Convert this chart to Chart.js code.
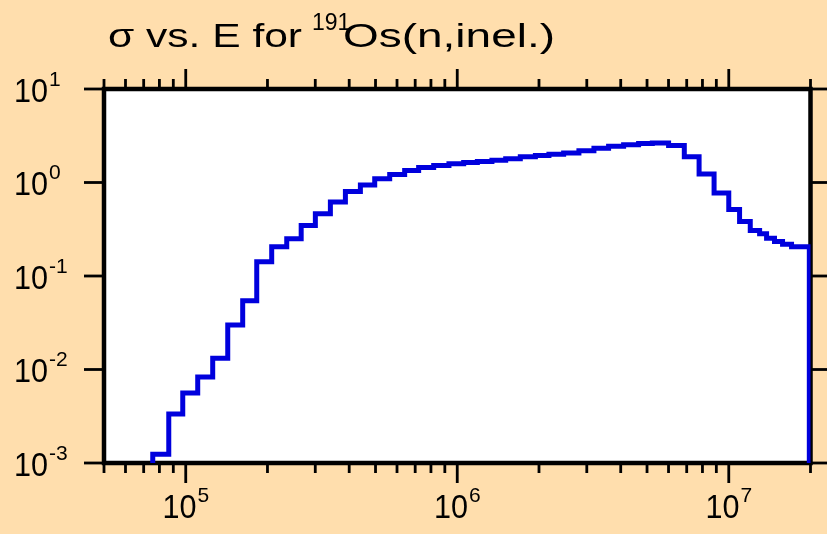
<!DOCTYPE html>
<html>
<head>
<meta charset="utf-8">
<script src="https://cdn.jsdelivr.net/npm/chart.js@4.4.0/dist/chart.umd.min.js"></script>
<style>
  html, body { margin: 0; padding: 0; background: #ffdead; }
  #wrap { width: 827px; height: 534px; }
</style>
</head>
<body>
<div id="wrap"><canvas id="chart" width="827" height="534"></canvas></div>
<script>
// group boundaries (eV), left edge of each step
const energyEdges = [
    5.0e4, 7.56e4, 8.66e4, 9.75e4, 1.107e5, 1.257e5, 1.428e5, 1.621e5, 1.826e5, 2.073e5,
    2.355e5, 2.662e5, 3.002e5, 3.41e5, 3.873e5, 4.398e5, 4.966e5, 5.639e5, 6.402e5, 7.208e5,
    8.188e5, 9.32e5, 1.056e6, 1.186e6, 1.342e6, 1.508e6, 1.707e6, 1.94e6, 2.176e6, 2.465e6,
    2.806e6, 3.187e6, 3.609e6, 4.099e6, 4.655e6, 5.229e6, 6.003e6, 6.859e6, 7.775e6, 8.829e6,
    1.0e7, 1.096e7, 1.2e7, 1.299e7, 1.378e7, 1.474e7, 1.578e7, 1.703e7, 1.98e7
];
// cross section (b) in each group; first and last are below the axis (threshold / end of data)
const crossSection = [
    1e-4, 1.24e-3, 3.35e-3, 5.62e-3, 8.3e-3, 1.32e-2, 2.99e-2, 5.45e-2, 0.142, 0.205,
    0.25, 0.346, 0.464, 0.618, 0.80, 0.94, 1.10, 1.22, 1.34, 1.45,
    1.52, 1.59, 1.64, 1.68, 1.73, 1.80, 1.88, 1.95, 2.01, 2.07,
    2.19, 2.32, 2.44, 2.54, 2.61, 2.65, 2.48, 1.89, 1.23, 0.772,
    0.515, 0.383, 0.307, 0.283, 0.254, 0.234, 0.219, 0.205, 1e-4
];

const xMajorTicks = [1e5, 1e6, 1e7];
const xMajorExp = ['5', '6', '7'];
const xMinorTicks = [5e4, 6e4, 7e4, 8e4, 9e4,
    2e5, 3e5, 4e5, 5e5, 6e5, 7e5, 8e5, 9e5,
    2e6, 3e6, 4e6, 5e6, 6e6, 7e6, 8e6, 9e6, 2e7];
const yMajorTicks = [1e-3, 1e-2, 1e-1, 1, 10];
const yMajorExp = ['-3', '-2', '-1', '0', '1'];

const FONT = "'Liberation Sans', Arial, sans-serif";

function fitText(ctx, text, x, y, size, width) {
    ctx.font = size + 'px ' + FONT;
    const w = ctx.measureText(text).width;
    ctx.save();
    ctx.translate(x, y);
    ctx.scale(width / w, 1);
    ctx.fillText(text, 0, 0);
    ctx.restore();
}

function drawPow(ctx, exp, x, baseline, align) {
    const baseW = 34;
    ctx.font = '21px ' + FONT;
    const supW = ctx.measureText(exp).width;
    const total = baseW + 1 + supW;
    const left = align === 'center' ? x - total / 2 : x;
    fitText(ctx, '10', left, baseline, 33, baseW);
    ctx.font = '21px ' + FONT;
    ctx.fillText(exp, left + baseW + 1, baseline - 16);
}

function line(ctx, x1, y1, x2, y2) {
    ctx.beginPath();
    ctx.moveTo(x1, y1);
    ctx.lineTo(x2, y2);
    ctx.stroke();
}

const framePlugin = {
    id: 'frame',
    beforeDraw(chart) {
        const { ctx, chartArea: a } = chart;
        ctx.save();
        ctx.fillStyle = '#ffdead';
        ctx.fillRect(0, 0, chart.width, chart.height);
        ctx.fillStyle = '#ffffff';
        ctx.fillRect(a.left, a.top, a.right - a.left, a.bottom - a.top);
        ctx.restore();
    },
    beforeDatasetsDraw(chart) {
        const { ctx, chartArea: a } = chart;
        const xs = chart.scales.x, ys = chart.scales.y;
        ctx.save();
        ctx.strokeStyle = '#000';
        ctx.fillStyle = '#000';
        ctx.lineWidth = 2.8;
        xMinorTicks.forEach(v => {
            const px = xs.getPixelForValue(v);
            line(ctx, px, a.bottom, px, a.bottom + 10);
            line(ctx, px, a.top, px, a.top - 10);
        });
        xMajorTicks.forEach(v => {
            const px = xs.getPixelForValue(v);
            line(ctx, px, a.bottom, px, a.bottom + 20);
            line(ctx, px, a.top, px, a.top - 20);
        });
        yMajorTicks.forEach(v => {
            const py = ys.getPixelForValue(v);
            line(ctx, a.left - 20, py, a.left, py);
            line(ctx, a.right, py, a.right + 20, py);
        });
        ctx.lineWidth = 4.5;
        ctx.strokeRect(a.left, a.top, a.right - a.left, a.bottom - a.top);

        ctx.textBaseline = 'alphabetic';
        ctx.textAlign = 'left';
        xMajorTicks.forEach((v, i) => {
            drawPow(ctx, xMajorExp[i], xs.getPixelForValue(v), 518, 'center');
        });
        yMajorTicks.forEach((v, i) => {
            const py = ys.getPixelForValue(v);
            drawPow(ctx, yMajorExp[i], 14, py + 12.5, 'left');
        });

        // title
        fitText(ctx, '\u03c3 vs. E for', 108, 47, 34, 194);
        ctx.font = '23px ' + FONT;
        ctx.fillText('191', 312, 30);
        fitText(ctx, 'Os(n,inel.)', 343, 47, 34, 212);
        ctx.restore();
    }
};

const points = energyEdges.map((e, i) => ({ x: e, y: crossSection[i] }));

new Chart(document.getElementById('chart').getContext('2d'), {
    type: 'line',
    data: {
        datasets: [{
            data: points,
            stepped: 'before',
            borderColor: '#0000dd',
            borderWidth: 5,
            borderJoinStyle: 'miter',
            borderCapStyle: 'butt',
            pointRadius: 0,
            fill: false
        }]
    },
    options: {
        responsive: false,
        animation: false,
        devicePixelRatio: 1,
        layout: { padding: { left: 104, top: 89, right: 16.5, bottom: 71 } },
        plugins: {
            legend: { display: false },
            title: { display: false },
            tooltip: { enabled: false }
        },
        scales: {
            x: { type: 'logarithmic', min: 5e4, max: 2e7, display: false },
            y: { type: 'logarithmic', min: 1e-3, max: 10, display: false }
        }
    },
    plugins: [framePlugin]
});
</script>
</body>
</html>
